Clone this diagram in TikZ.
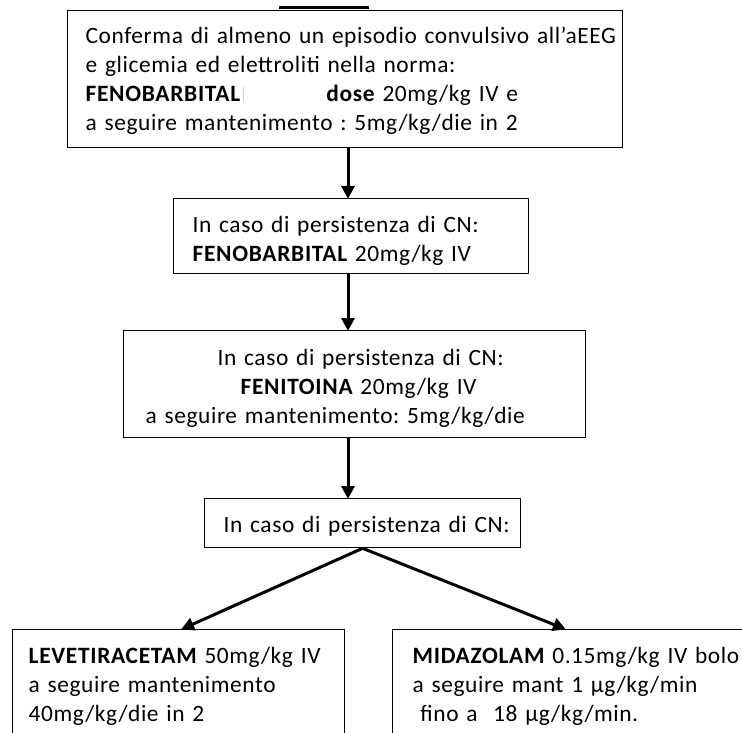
\documentclass[tikz,border=0pt]{standalone}
\usepackage{fontspec}
\setmainfont{Carlito}[LetterSpace=2.5]
\newfontface\cbold{Carlito Bold}[LetterSpace=3]
\newcommand{\bt}[1]{{\cbold #1}}
\usetikzlibrary{arrows.meta}
\definecolor{tickcol}{RGB}{225,205,180}
\begin{document}
\frenchspacing
\begin{tikzpicture}[x=1pt,y=-1pt,
  box/.style={draw=black, line width=1.3pt, inner xsep=0pt, inner ysep=0pt, anchor=north west,
    font=\fontsize{23.4}{29}\selectfont\frenchspacing, text=black, align=left},
  arr/.style={line width=3pt, -{Triangle[length=13pt,width=13pt]}, shorten >=-1pt},
]
\useasboundingbox (0,0) rectangle (742,733);
\clip (0,0) rectangle (742,733);

\node[box, minimum width=555pt, text width=555pt, text height=33pt, text depth=104pt] (b1) at (67,10)
 {\hspace*{18pt}Conferma di almeno un episodio convulsivo all’aEEG\\
  \hspace*{18pt}e glicemia ed elettroliti nella norma:\\
  \hspace*{18pt}\bt{FENOBARBITAL}\hspace{3pt}{\color{tickcol}\rule{1.2pt}{15pt}}\hspace{82pt}\bt{dose} 20mg/kg IV e\\
  \hspace*{18pt}a seguire mantenimento : 5mg/kg/die in 2};

\node[box, minimum width=355pt, text width=355pt, text height=34pt, text depth=41pt] (b2) at (173,198)
 {\hspace*{19pt}In caso di persistenza di CN:\\
  \hspace*{19pt}\bt{FENOBARBITAL} 20mg/kg IV};

\node[box, minimum width=462pt, text width=462pt, text height=35pt, text depth=72pt] (b3) at (123,330)
 {\hspace*{94pt}In caso di persistenza di CN:\\
  \hspace*{117pt}\bt{FENITOINA} 20mg/kg IV\\
  \hspace*{22pt}a seguire mantenimento: 5mg/kg/die};

\node[box, minimum width=316pt, text width=316pt, text height=34pt, text depth=15pt] (b4) at (204,498)
 {\hspace*{19pt}In caso di persistenza di CN:};

\node[box, minimum width=332pt, text width=332pt, text height=34pt, text depth=120pt] (b5) at (12,629)
 {\hspace*{16pt}\bt{LEVETIRACETAM} 50mg/kg IV\\
  \hspace*{16pt}a seguire mantenimento\\
  \hspace*{16pt}40mg/kg/die in 2};

\node[box, minimum width=380pt, text width=380pt, text height=34pt, text depth=120pt] (b6) at (392,629)
 {\hspace*{20pt}\bt{MIDAZOLAM} 0.15mg/kg IV bolo\\
  \hspace*{20pt}a seguire mant 1 µg/kg/min\\
  \hspace*{20pt}\ fino a\ \ 18 µg/kg/min.};

\coordinate (ax) at (348,0);
\coordinate (tl) at (182,0);
\coordinate (tr) at (565,0);
\coordinate (barL) at (279,8);
\coordinate (barR) at (369,8);

\draw[line width=3pt] (barL) -- (barR);
\draw[arr] (b1.south -| ax) -- (b2.north -| ax);
\draw[arr] (b2.south -| ax) -- (b3.north -| ax);
\draw[arr] (b3.south -| ax) -- (b4.north -| ax);
\draw[arr] (b4.south) -- (b5.north -| tl);
\draw[arr] (b4.south) -- (b6.north -| tr);
\end{tikzpicture}
\end{document}
